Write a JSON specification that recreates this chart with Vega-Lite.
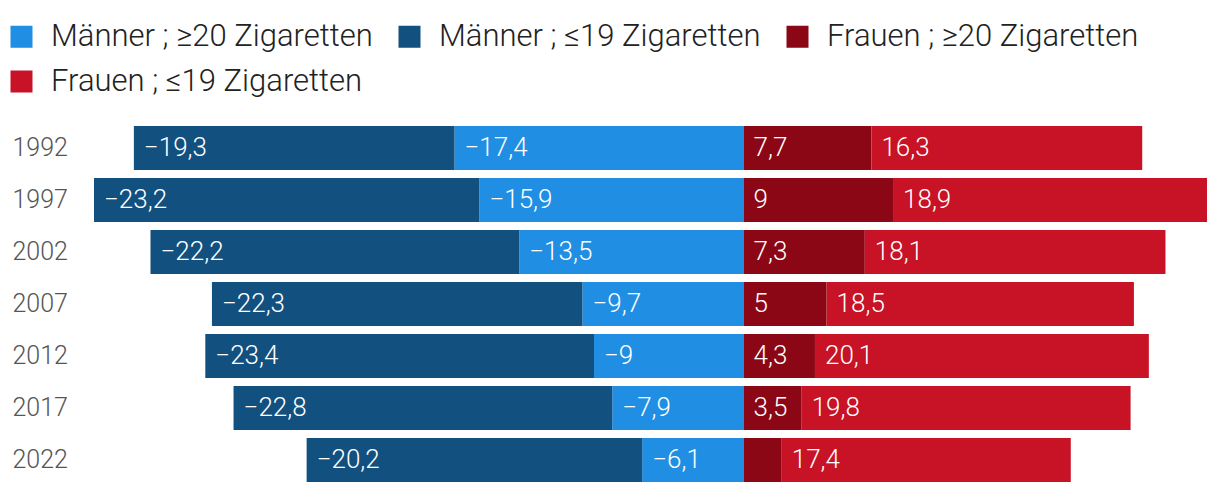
{
  "$schema": "https://vega.github.io/schema/vega-lite/v6.json",
  "autosize": {"type": "none"},
  "width": 1113,
  "height": 364,
  "padding": {"left": 94, "top": 122, "right": 13, "bottom": 8},
  "background": "white",
  "config": {
    "font": "Roboto",
    "view": {"stroke": null},
    "locale": {"number": {"decimal": ",", "thousands": ".", "grouping": [3], "currency": ["", " €"]}}
  },
  "data": {"values": [
    {"year": "1992", "series": "Männer ; ≥20 Zigaretten", "ord": 1, "v": -17.4},
    {"year": "1992", "series": "Männer ; ≤19 Zigaretten", "ord": 2, "v": -19.3},
    {"year": "1992", "series": "Frauen ; ≥20 Zigaretten", "ord": 1, "v": 7.7},
    {"year": "1992", "series": "Frauen ; ≤19 Zigaretten", "ord": 2, "v": 16.3},
    {"year": "1997", "series": "Männer ; ≥20 Zigaretten", "ord": 1, "v": -15.9},
    {"year": "1997", "series": "Männer ; ≤19 Zigaretten", "ord": 2, "v": -23.2},
    {"year": "1997", "series": "Frauen ; ≥20 Zigaretten", "ord": 1, "v": 9},
    {"year": "1997", "series": "Frauen ; ≤19 Zigaretten", "ord": 2, "v": 18.9},
    {"year": "2002", "series": "Männer ; ≥20 Zigaretten", "ord": 1, "v": -13.5},
    {"year": "2002", "series": "Männer ; ≤19 Zigaretten", "ord": 2, "v": -22.2},
    {"year": "2002", "series": "Frauen ; ≥20 Zigaretten", "ord": 1, "v": 7.3},
    {"year": "2002", "series": "Frauen ; ≤19 Zigaretten", "ord": 2, "v": 18.1},
    {"year": "2007", "series": "Männer ; ≥20 Zigaretten", "ord": 1, "v": -9.7},
    {"year": "2007", "series": "Männer ; ≤19 Zigaretten", "ord": 2, "v": -22.3},
    {"year": "2007", "series": "Frauen ; ≥20 Zigaretten", "ord": 1, "v": 5},
    {"year": "2007", "series": "Frauen ; ≤19 Zigaretten", "ord": 2, "v": 18.5},
    {"year": "2012", "series": "Männer ; ≥20 Zigaretten", "ord": 1, "v": -9},
    {"year": "2012", "series": "Männer ; ≤19 Zigaretten", "ord": 2, "v": -23.4},
    {"year": "2012", "series": "Frauen ; ≥20 Zigaretten", "ord": 1, "v": 4.3},
    {"year": "2012", "series": "Frauen ; ≤19 Zigaretten", "ord": 2, "v": 20.1},
    {"year": "2017", "series": "Männer ; ≥20 Zigaretten", "ord": 1, "v": -7.9},
    {"year": "2017", "series": "Männer ; ≤19 Zigaretten", "ord": 2, "v": -22.8},
    {"year": "2017", "series": "Frauen ; ≥20 Zigaretten", "ord": 1, "v": 3.5},
    {"year": "2017", "series": "Frauen ; ≤19 Zigaretten", "ord": 2, "v": 19.8},
    {"year": "2022", "series": "Männer ; ≥20 Zigaretten", "ord": 1, "v": -6.1},
    {"year": "2022", "series": "Männer ; ≤19 Zigaretten", "ord": 2, "v": -20.2},
    {"year": "2022", "series": "Frauen ; ≥20 Zigaretten", "ord": 1, "v": 2.3},
    {"year": "2022", "series": "Frauen ; ≤19 Zigaretten", "ord": 2, "v": 17.4}
  ]},
  "transform": [
    {"stack": "v", "groupby": ["year"], "sort": [{"field": "ord", "order": "ascending"}], "as": ["s0", "s1"], "offset": "zero"},
    {"calculate": "min(datum.s0, datum.s1)", "as": "lo"}
  ],
  "encoding": {
    "y": {
      "field": "year", "type": "ordinal",
      "scale": {"paddingInner": 0.154, "paddingOuter": 0.077},
      "axis": {"title": null, "ticks": false, "domain": false, "labelAlign": "left", "labelPadding": 82, "labelFontSize": 25, "labelColor": "#555555", "labelFont": "Roboto", "labelFontWeight": 300}
    }
  },
  "layer": [
    {
      "mark": {"type": "bar"},
      "encoding": {
        "x": {"field": "s0", "type": "quantitative", "scale": {"domain": [-39.1, 27.9], "nice": false, "zero": false}, "axis": null},
        "x2": {"field": "s1"},
        "color": {
          "field": "series", "type": "nominal",
          "scale": {
            "domain": ["Männer ; ≥20 Zigaretten", "Frauen ; ≥20 Zigaretten", "Männer ; ≤19 Zigaretten", "Frauen ; ≤19 Zigaretten"],
            "range": ["#1f8ee3", "#8b0716", "#12507f", "#c81226"]
          },
          "legend": {
            "title": null, "orient": "none", "legendX": -88, "legendY": -101,
            "columns": 3, "symbolType": "square", "symbolSize": 484, "symbolStrokeWidth": 0, "symbolOpacity": 1,
            "labelFontSize": 31, "labelColor": "#222222", "labelFont": "Roboto", "labelFontWeight": 300, "labelOffset": 14, "labelLimit": 0,
            "columnPadding": 21, "rowPadding": 13
          }
        }
      }
    },
    {
      "transform": [{"filter": "abs(datum.v) >= 3"}],
      "mark": {"type": "text", "align": "left", "dx": 10, "baseline": "middle", "color": "white", "fontSize": 26, "font": "Roboto", "fontWeight": 300},
      "encoding": {
        "x": {"field": "lo", "type": "quantitative"},
        "text": {"field": "v", "type": "quantitative", "format": "~g"}
      }
    }
  ]
}
